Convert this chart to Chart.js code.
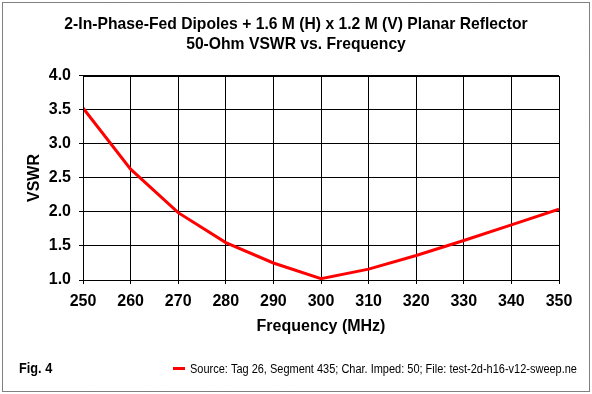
<!DOCTYPE html>
<html><head><meta charset="utf-8">
<script src="https://cdn.jsdelivr.net/npm/chart.js@4/dist/chart.umd.min.js"></script>
<style>html,body{margin:0;padding:0;background:#fff}#wrap{width:592px;height:394px;position:relative}</style>
</head><body><div id="wrap"><canvas id="c" width="592" height="394"></canvas></div>
<script>
const frequencies = [250, 260, 270, 280, 290, 300, 310, 320, 330, 340, 350];
const vswr = [3.53, 2.63, 1.99, 1.55, 1.25, 1.02, 1.16, 1.36, 1.58, 1.81, 2.04];
const titleLines = ["2-In-Phase-Fed Dipoles + 1.6 M (H) x 1.2 M (V) Planar Reflector", "50-Ohm VSWR vs. Frequency"];
const seriesLabel = "Source: Tag 26, Segment 435; Char. Imped: 50; File: test-2d-h16-v12-sweep.nec";
const xTitle = "Frequency (MHz)";
const yTitle = "VSWR";
const figLabel = "Fig. 4";

const F = "Arial, 'Liberation Sans', sans-serif";

const decor = {
  id: 'decor',
  beforeDraw(chart) {
    const ctx = chart.ctx;
    ctx.save();
    ctx.fillStyle = '#fff';
    ctx.fillRect(0, 0, chart.width, chart.height);
    ctx.restore();
  },
  afterDraw(chart) {
    const ctx = chart.ctx;
    const a = chart.chartArea;
    ctx.save();
    ctx.strokeStyle = '#000'; ctx.lineWidth = 1;
    ctx.strokeRect(Math.round(a.left) + 0.5, Math.round(a.top) + 0.5, Math.round(a.right - a.left), Math.round(a.bottom - a.top));
    ctx.setLineDash([1, 1]);
    ctx.strokeRect(2.5, 2.5, chart.width - 5, chart.height - 5);
    ctx.setLineDash([]);
    ctx.fillStyle = '#000';
    ctx.textBaseline = 'alphabetic';
    ctx.textAlign = 'left';
    // Fig label (condensed bold)
    ctx.save();
    ctx.translate(19, 373);
    ctx.scale(0.85, 1);
    ctx.font = "bold 15px " + F;
    ctx.fillText(figLabel, 0, 0);
    ctx.restore();
    // legend
    ctx.beginPath();
    ctx.rect(0, 0, 577, chart.height);
    ctx.clip();
    ctx.strokeStyle = chart.data.datasets[0].borderColor;
    ctx.lineWidth = 3;
    ctx.beginPath(); ctx.moveTo(173, 368.5); ctx.lineTo(185, 368.5); ctx.stroke();
    ctx.save();
    ctx.translate(190, 373);
    ctx.scale(0.915, 1);
    ctx.font = "12px " + F;
    ctx.fillText(chart.data.datasets[0].label, 0, 0);
    ctx.restore();
    ctx.restore();
  }
};

new Chart(document.getElementById('c'), {
  type: 'line',
  data: {
    datasets: [{
      label: seriesLabel,
      data: frequencies.map((f, i) => ({x: f, y: vswr[i]})),
      borderColor: '#ff0000',
      borderWidth: 3,
      pointRadius: 0,
      tension: 0,
      fill: false
    }]
  },
  options: {
    responsive: false,
    animation: false,
    devicePixelRatio: 1,
    layout: {padding: {left: 33, right: 33, top: 0, bottom: 50}},
    plugins: {
      legend: {display: false},
      tooltip: {enabled: false},
      title: {display: true, text: titleLines, color: '#000', font: {family: F, size: 15.7, weight: 'bold', lineHeight: 1.27}, padding: {top: 14.5, bottom: 21.6}}
    },
    scales: {
      x: {
        type: 'linear', min: 250, max: 350,
        afterFit: s => { s.height = 64; },
        ticks: {stepSize: 10, color: '#000', font: {family: F, size: 16, weight: 'bold'}, padding: 8, maxRotation: 0},
        grid: {color: '#000', tickLength: 4, tickColor: '#000'},
        border: {color: '#000'},
        title: {display: true, text: xTitle, color: '#000', font: {family: F, size: 16, weight: 'bold', lineHeight: 1.2}, padding: {top: 2, bottom: 7.4}}
      },
      y: {
        min: 1, max: 4,
        afterFit: s => { s.width = 50; },
        ticks: {stepSize: 0.5, color: '#000', font: {family: F, size: 16, weight: 'bold'}, padding: 8, callback: v => Number(v).toFixed(1)},
        grid: {color: '#000', tickLength: 4, tickColor: '#000'},
        border: {color: '#000'},
        title: {display: true, text: yTitle, color: '#000', font: {family: F, size: 16, weight: 'bold', lineHeight: 1.2}, padding: {top: -7.6, bottom: 0}}
      }
    }
  },
  plugins: [decor]
});
</script></body></html>
